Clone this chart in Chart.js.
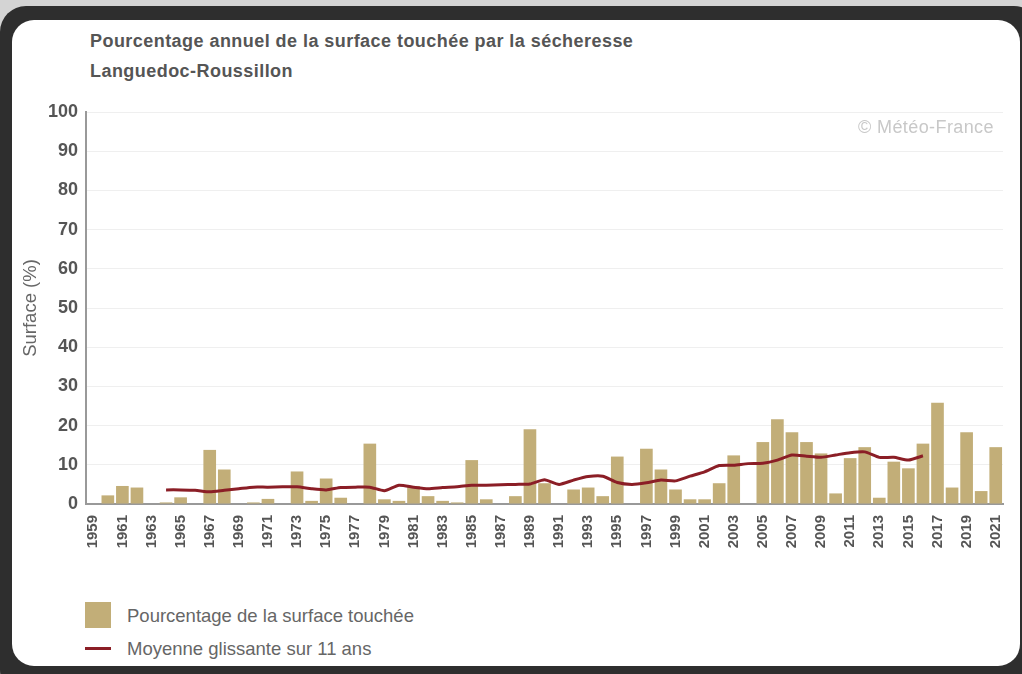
<!DOCTYPE html>
<html>
<head>
<meta charset="utf-8">
<script src="https://cdn.jsdelivr.net/npm/chart.js@4.4.1/dist/chart.umd.min.js"></script>
<style>
  html, body { margin: 0; padding: 0; }
  body { width: 1022px; height: 674px; background: #d4d4d4; overflow: hidden; position: relative; font-family: "Liberation Sans", Arial, sans-serif; }
  #frame { position: absolute; left: 0; top: 6px; width: 1040px; height: 690px; background: #2e2e2e; border-radius: 26px; }
  #panel { position: absolute; left: 12px; top: 20px; width: 1008px; height: 646px; background: #fff; border-radius: 22px; }
  #wrap { position: absolute; left: 12px; top: 20px; width: 1008px; height: 560px; }
  .title { position: absolute; left: 90px; color: #555; font-weight: bold; font-size: 18px; letter-spacing: 0.45px; }
  #copy { position: absolute; left: 858px; top: 117px; color: #c8c8c8; font-size: 18px; letter-spacing: 0.4px; }
  .leg { position: absolute; left: 127px; color: #666; font-size: 18.5px; }
</style>
</head>
<body>
<div id="frame"></div>
<div id="panel"></div>
<div class="title" style="top:31px">Pourcentage annuel de la surface touchée par la sécheresse</div>
<div class="title" style="top:61px">Languedoc-Roussillon</div>
<div id="wrap"><canvas id="chart"></canvas></div>
<div id="copy">© Météo-France</div>
<div style="position:absolute;left:85px;top:602px;width:26px;height:26px;background:#c2ae78;"></div>
<div class="leg" style="top:605px">Pourcentage de la surface touchée</div>
<div style="position:absolute;left:85px;top:647px;width:26px;height:3px;background:#8b1e26;"></div>
<div class="leg" style="top:638px">Moyenne glissante sur 11 ans</div>
<script>
var years = [];
for (var y = 1959; y <= 2021; y++) years.push(String(y));

var surface = [
  0, 2.2, 4.6, 4.2, 0, 0.4, 1.7, 0, 13.8, 8.8,
  0, 0.4, 1.3, 0, 8.3, 0.8, 6.5, 1.6, 0, 15.4,
  1.2, 0.8, 4.6, 2.0, 0.8, 0.4, 11.2, 1.2, 0, 2.0,
  19.1, 5.3, 0, 3.7, 4.2, 2.0, 12.1, 0, 14.1, 8.8,
  3.7, 1.2, 1.2, 5.3, 12.4, 0, 15.8, 21.6, 18.3, 15.8,
  12.9, 2.7, 11.7, 14.5, 1.6, 10.8, 9.1, 15.4, 25.8, 4.2,
  18.3, 3.3, 14.5
];

var moyenne = [
  null, null, null, null, null, 3.6, 3.6, 3.5, 3.1, 3.5,
  3.9, 4.3, 4.3, 4.4, 4.4, 3.9, 3.6, 4.2, 4.3, 4.3,
  3.4, 4.8, 4.3, 3.9, 4.2, 4.4, 4.8, 4.8, 4.9, 5.0,
  5.1, 6.2, 5.0, 6.1, 7.0, 7.1, 5.5, 5.0, 5.4, 6.1,
  5.9, 7.1, 8.2, 9.8, 9.9, 10.3, 10.4, 11.2, 12.5, 12.2,
  11.9, 12.5, 13.1, 13.3, 11.9, 11.9, 11.2, 12.3, null, null,
  null, null, null
];

var yTicks = [0, 10, 20, 30, 40, 50, 60, 70, 80, 90, 100];

new Chart(document.getElementById('chart'), {
  data: {
    labels: years,
    datasets: [{
      type: 'line',
      label: 'Moyenne glissante sur 11 ans',
      data: moyenne,
      borderColor: '#8b1e26',
      borderWidth: 3,
      pointRadius: 0,
      tension: 0.2,
      spanGaps: false,
      order: 0
    }, {
      type: 'bar',
      label: 'Pourcentage de la surface touchée',
      data: surface,
      backgroundColor: '#c2ae78',
      barPercentage: 0.87,
      categoryPercentage: 1.0,
      order: 1
    }]
  },
  options: {
    responsive: true,
    maintainAspectRatio: false,
    animation: false,
    layout: { padding: { top: 92, right: 17, left: 0, bottom: 0 } },
    plugins: { legend: { display: false }, tooltip: { enabled: false } },
    scales: {
      x: {
        grid: { display: false },
        border: { color: '#999', width: 2 },
        ticks: {
          autoSkip: false,
          minRotation: 90,
          maxRotation: 90,
          color: '#555',
          font: { family: 'Liberation Sans', size: 15, weight: 'bold' },
          callback: function (v, i) { return i % 2 === 0 ? years[i] : ''; }
        },
        afterFit: function (s) { s.height = 76; }
      },
      y: {
        min: 0,
        max: 100,
        afterBuildTicks: function (s) { s.ticks = yTicks.map(function (v) { return { value: v }; }); },
        grid: { color: '#efefef', drawTicks: false },
        border: { color: '#999', width: 2 },
        ticks: {
          padding: 8,
          color: '#555',
          font: { family: 'Liberation Sans', size: 18, weight: 'bold' }
        },
        title: {
          display: true,
          text: 'Surface (%)',
          color: '#666',
          padding: { top: 8, bottom: 0 },
          font: { family: 'Liberation Sans', size: 18.5 }
        },
        afterFit: function (s) { s.width = 74; }
      }
    }
  }
});
</script>
</body>
</html>
